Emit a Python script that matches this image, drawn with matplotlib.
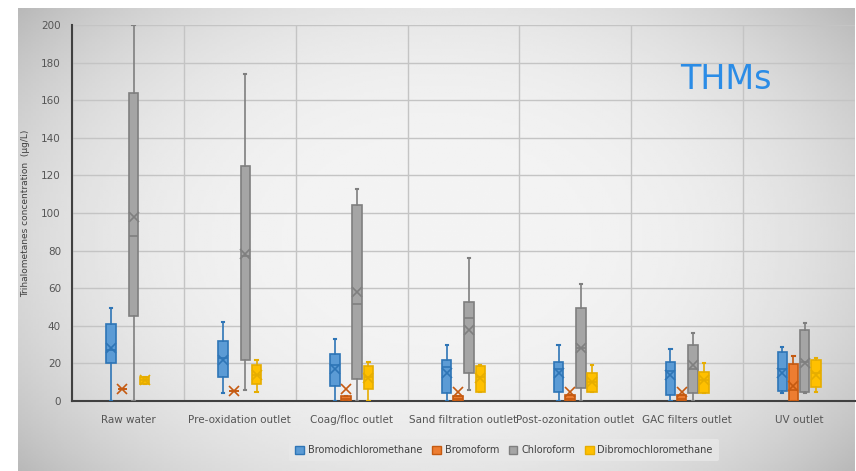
import matplotlib
matplotlib.use("Agg")
import matplotlib.pyplot as plt
import numpy as np

categories = ["Raw water", "Pre-oxidation outlet", "Coag/floc outlet", "Sand filtration outlet",
              "Post-ozonitation outlet", "GAC filters outlet", "UV outlet"]
series_names = ["Bromodichloromethane", "Bromoform", "Chloroform", "Dibromochloromethane"]

# box stats per series, one value per category
bdcm_lo = [0, 4, 0, 0, 0, 0, 4]
bdcm_q1 = [20, 13, 8, 4, 5, 3, 5.5]
bdcm_med = [27, 23, 19, 18, 17, 16, 17]
bdcm_q3 = [41, 32, 25, 22, 21, 20.5, 26]
bdcm_hi = [49.5, 42, 33, 30, 30, 27.5, 28.5]
bdcm_mean = [28, 22, 17, 15, 15, 14, 15]

brf_lo = [6.5, 5.5, 0, 0, 0, 0, 0]
brf_q1 = [6.5, 5.5, 0, 0, 0, 0, 0]
brf_med = [6.5, 5.5, 1, 1, 1, 1, 6]
brf_q3 = [6.5, 5.5, 2.5, 2.5, 3, 3, 19.5]
brf_hi = [6.5, 5.5, 2.5, 2.5, 3, 3, 24]
brf_mean = [6.5, 5.5, 6.5, 5, 5, 5, 8]

chl_lo = [0, 6, 0, 6, 0, 0, 4]
chl_q1 = [45, 22, 11.7, 15, 7, 4, 5]
chl_med = [88, 77, 51.6, 44, 28, 17, 21]
chl_q3 = [164, 125, 104, 52.6, 49.5, 30, 38]
chl_hi = [200, 174, 113, 76, 62.5, 36, 41.5]
chl_mean = [98, 78, 58, 37.8, 28, 19, 20]

dbcm_lo = [9, 5, 0, 5, 5, 4, 5]
dbcm_q1 = [9, 9, 6.4, 5, 5, 4, 7.5]
dbcm_med = [11, 14, 13, 13, 10, 11, 15]
dbcm_q3 = [13, 19, 18.6, 18.6, 15, 15.5, 22]
dbcm_hi = [13, 22, 21, 19, 19, 20, 23]
dbcm_mean = [11, 14, 12, 12, 10, 11, 14]

series = [
    (bdcm_lo, bdcm_q1, bdcm_med, bdcm_q3, bdcm_hi, bdcm_mean),
    (brf_lo, brf_q1, brf_med, brf_q3, brf_hi, brf_mean),
    (chl_lo, chl_q1, chl_med, chl_q3, chl_hi, chl_mean),
    (dbcm_lo, dbcm_q1, dbcm_med, dbcm_q3, dbcm_hi, dbcm_mean),
]
fills = ["#5b9bd5", "#ed7d31", "#a5a5a5", "#ffc000"]
edges = ["#2e75b6", "#c55a11", "#7f7f7f", "#e6ad00"]
offsets = [-0.15, -0.05, 0.05, 0.15]

fig = plt.figure(figsize=(8.56, 4.71), dpi=100)
fig.patch.set_facecolor("white")

# softly vignetted grey backdrop like the screenshot
bg = fig.add_axes([18 / 856, 0, (855 - 18) / 856, 1 - 8 / 471], zorder=-10)
gx, gy = np.meshgrid(np.linspace(-1, 1, 300), np.linspace(-1, 1, 200))
r = np.clip(np.sqrt(gx ** 2 + (gy * 0.8) ** 2), 0, 1.4)
shade = 0.955 - 0.11 * r ** 3
bg.imshow(shade, aspect="auto", cmap="gray", vmin=0, vmax=1, extent=[0, 1, 0, 1])
bg.axis("off")

ax = fig.add_axes([72 / 856, 1 - 401 / 471, (855 - 72) / 856, (401 - 25) / 471])
ax.patch.set_alpha(0)

x = np.arange(len(categories))
for k, (lo, q1, med, q3, hi, mn) in enumerate(series):
    stats = []
    for i in range(len(categories)):
        stats.append(dict(whislo=lo[i], q1=q1[i], med=med[i], q3=q3[i], whishi=hi[i], mean=mn[i], fliers=[]))
    ax.bxp(stats, positions=x + offsets[k], widths=0.085, patch_artist=True, showmeans=True,
           showfliers=False, capwidths=0.02,
           boxprops=dict(facecolor=fills[k], edgecolor=edges[k], linewidth=1.2),
           medianprops=dict(color=edges[k], linewidth=1.2),
           whiskerprops=dict(color=edges[k], linewidth=1.2),
           capprops=dict(color=edges[k], linewidth=1.5),
           meanprops=dict(marker="x", markeredgecolor=edges[k], markersize=7, markeredgewidth=1.2),
           zorder=3)

ax.set_xlim(-0.5, len(categories) - 0.5)
ax.set_ylim(0, 200)
ax.set_yticks(range(0, 201, 20))
ax.set_xticks(x)
ax.set_xticklabels(categories, fontsize=7.5, color="#555555")
ax.tick_params(axis="y", labelsize=7.5, colors="#555555", length=0, pad=8)
ax.tick_params(axis="x", length=0, pad=10)
ax.set_xticks(np.arange(-0.5, len(categories), 1), minor=True)
ax.tick_params(axis="x", which="minor", length=0)
ax.grid(axis="y", color="#c4c4c4", linewidth=1, zorder=0)
ax.grid(axis="x", which="minor", color="#c4c4c4", linewidth=1, zorder=0)
ax.grid(axis="x", which="major", visible=False)
ax.set_axisbelow(True)
for s in ["top", "right"]:
    ax.spines[s].set_visible(False)
ax.spines["left"].set_color("#404040")
ax.spines["left"].set_linewidth(1.5)
ax.spines["bottom"].set_color("#404040")
ax.spines["bottom"].set_linewidth(1.5)
ax.set_ylabel("Trihalometanes concentration  (\u03bcg/L)", fontsize=6.5, color="#404040", labelpad=8)

ax.text(0.835, 0.855, "THMs", transform=ax.transAxes, fontsize=24, color="#2b8ce6", ha="center", va="center")

handles = [matplotlib.patches.Patch(facecolor=fills[k], edgecolor=edges[k], label=series_names[k]) for k in range(4)]
leg = fig.legend(handles=handles, loc="center", bbox_to_anchor=(504 / 856, 1 - 450 / 471), ncol=4,
                 fontsize=7, frameon=True, handlelength=0.9, handleheight=0.9, handletextpad=0.4,
                 columnspacing=1.0, borderpad=0.6)
leg.get_frame().set_facecolor("#e8e8e8")
leg.get_frame().set_edgecolor("none")
for t in leg.get_texts():
    t.set_color("#404040")

fig.savefig("out.png", dpi=100)
